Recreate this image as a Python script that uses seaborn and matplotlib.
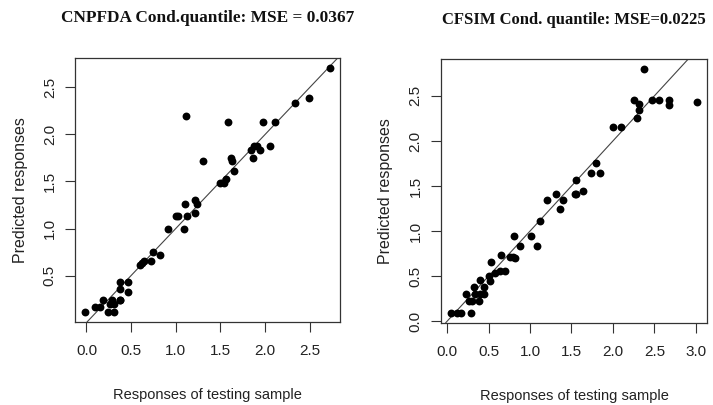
import numpy as np
import pandas as pd
import matplotlib
matplotlib.use('Agg')
import matplotlib.pyplot as plt
import seaborn as sns

# CNPFDA panel: observed vs predicted
cnp_obs = [-0.02, 0.09, 0.15, 0.19, 0.24, 0.31, 0.26, 0.29, 0.31, 0.37, 0.38, 0.37, 0.38,
           0.46, 0.47, 0.60, 0.62, 0.64, 0.72, 0.75, 0.82, 0.91, 1.00, 1.03, 1.09, 1.10,
           1.13, 1.12, 1.22, 1.24, 1.22, 1.31, 1.49, 1.54, 1.56, 1.58, 1.62, 1.63, 1.65,
           1.84, 1.87, 1.88, 1.91, 1.94, 1.98, 2.06, 2.11, 2.33, 2.49, 2.73]
cnp_pred = [0.11, 0.16, 0.16, 0.24, 0.11, 0.11, 0.20, 0.24, 0.20, 0.24, 0.24, 0.36, 0.43,
            0.33, 0.43, 0.61, 0.63, 0.65, 0.65, 0.75, 0.72, 1.00, 1.13, 1.13, 1.00, 1.26,
            1.13, 2.20, 1.30, 1.26, 1.17, 1.72, 1.48, 1.48, 1.53, 2.13, 1.75, 1.72, 1.61,
            1.84, 1.75, 1.88, 1.88, 1.84, 2.13, 1.88, 2.13, 2.33, 2.39, 2.71]

# CFSIM panel
cfs_obs = [0.04, 0.12, 0.17, 0.29, 0.23, 0.26, 0.30, 0.32, 0.34, 0.38, 0.40, 0.40, 0.44,
           0.45, 0.50, 0.52, 0.53, 0.58, 0.64, 0.65, 0.70, 0.76, 0.79, 0.82, 0.81, 0.88,
           1.01, 1.08, 1.12, 1.21, 1.31, 1.36, 1.40, 1.54, 1.56, 1.55, 1.64, 1.74, 1.80,
           1.85, 2.00, 2.10, 2.26, 2.29, 2.31, 2.32, 2.38, 2.47, 2.56, 2.68, 2.68, 3.02]
cfs_pred = [0.09, 0.09, 0.09, 0.09, 0.30, 0.22, 0.22, 0.38, 0.30, 0.22, 0.30, 0.46, 0.30,
            0.38, 0.50, 0.45, 0.66, 0.53, 0.56, 0.73, 0.56, 0.71, 0.71, 0.70, 0.94, 0.83,
            0.94, 0.83, 1.11, 1.35, 1.41, 1.24, 1.35, 1.41, 1.41, 1.57, 1.44, 1.64, 1.76,
            1.64, 2.16, 2.16, 2.46, 2.25, 2.34, 2.41, 2.80, 2.46, 2.46, 2.46, 2.40, 2.43]

titles = ['CNPFDA Cond.quantile: MSE = 0.0367', 'CFSIM Cond. quantile: MSE=0.0225']
xticks = [[0.0, 0.5, 1.0, 1.5, 2.0, 2.5], [0.0, 0.5, 1.0, 1.5, 2.0, 2.5, 3.0]]
yticks = [[0.5, 1.0, 1.5, 2.0, 2.5], [0.0, 0.5, 1.0, 1.5, 2.0, 2.5]]

sns.set_theme(style='white')
plt.rcParams['font.family'] = ['Liberation Sans', 'DejaVu Sans']

fig = plt.figure(figsize=(7.13, 4.05), dpi=100)
axes = [fig.add_axes([0.105, 0.205, 0.372, 0.652]),
        fig.add_axes([0.618, 0.203, 0.374, 0.651])]

data = [(cnp_obs, cnp_pred), (cfs_obs, cfs_pred)]
ylab_x = [-0.205, -0.205]
title_size = [12.4, 12]

for i, ax in enumerate(axes):
    df = pd.DataFrame({'obs': data[i][0], 'pred': data[i][1]})
    sns.scatterplot(data=df, x='obs', y='pred', ax=ax, color='black', s=32,
                    edgecolor='black', linewidth=0, zorder=3)
    ax.axline((0, 0), slope=1, color='#444444', linewidth=0.8, zorder=2)

    # R style 4% padding
    xr = max(df.obs) - min(df.obs)
    yr = max(df.pred) - min(df.pred)
    ax.set_xlim(min(df.obs) - 0.04 * xr, max(df.obs) + 0.04 * xr)
    ax.set_ylim(min(df.pred) - 0.04 * yr, max(df.pred) + 0.04 * yr)
    ax.set_xticks(xticks[i])
    ax.set_yticks(yticks[i])
    ax.set_xticklabels([f'{t:.1f}' for t in xticks[i]])
    ax.set_yticklabels([f'{t:.1f}' for t in yticks[i]], rotation=90, va='center')

    ax.tick_params(axis='both', direction='out', length=7, width=0.8, color='#333333',
                   labelsize=11, labelcolor='#222222', bottom=True, left=True)
    ax.tick_params(axis='x', pad=9)
    ax.tick_params(axis='y', pad=6)
    for sp in ax.spines.values():
        sp.set_color('#333333')
        sp.set_linewidth(0.9)

    ax.set_xlabel('Responses of testing sample', fontsize=10.5, color='#222222')
    ax.set_ylabel('Predicted responses', fontsize=11.5, color='#222222')
    ax.xaxis.set_label_coords(0.5, -0.277)
    ax.xaxis.label.set_va('center')
    ax.yaxis.set_label_coords(ylab_x[i], 0.5)
    ax.yaxis.label.set_va('center')

    ax.set_title(titles[i], y=1.15, pad=0, va='center', fontsize=title_size[i],
                 fontweight='bold', family=['Liberation Serif', 'DejaVu Serif'],
                 color='#111111')

fig.savefig('out.png', dpi=100)
